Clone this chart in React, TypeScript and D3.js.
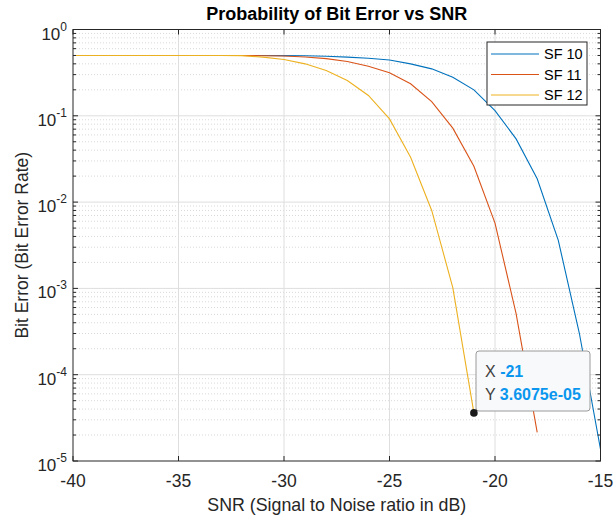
import React from 'react';
import * as d3 from 'd3';

// SNR sample points (dB)
const snr = [-40, -39, -38, -37, -36, -35, -34, -33, -32, -31, -30, -29, -28, -27, -26, -25, -24, -23, -22, -21, -20, -19, -18, -17, -16, -15];

// bit error rate, one value per SNR step (curves stop where BER hits 0)
const sf10 = [0.5, 0.5, 0.5, 0.5, 0.5, 0.5, 0.5, 0.5, 0.5, 0.499, 0.498, 0.496, 0.49, 0.478, 0.465, 0.443, 0.4, 0.35, 0.28, 0.2, 0.115, 0.054, 0.0186, 0.0036, 0.0003, 1.37e-5];
const sf11 = [0.5, 0.5, 0.5, 0.5, 0.5, 0.5, 0.5, 0.5, 0.499, 0.497, 0.493, 0.48, 0.46, 0.425, 0.375, 0.315, 0.235, 0.146, 0.072, 0.026, 0.0057, 0.00051, 2.15e-5];
const sf12 = [0.5, 0.5, 0.5, 0.5, 0.5, 0.5, 0.5, 0.5, 0.498, 0.478, 0.45, 0.4, 0.335, 0.256, 0.172, 0.092, 0.033, 0.008, 0.00102, 3.6075e-5];

const seriesNames = ['SF 10', 'SF 11', 'SF 12'];
const seriesColors = ['#0072BD', '#D95319', '#EDB120'];

const xTicks = [-40, -35, -30, -25, -20, -15];
const yExponents = [0, -1, -2, -3, -4, -5];

// data tip
const tipX = -21;
const tipY = 3.6075e-5;
const tipLabel = '3.6075e-05';

const W = 614;
const H = 521;
const FONT = '"Liberation Sans", Arial, Helvetica, sans-serif';
const AXIS = '#262626';

const App = () => {
  const left = 73, right = 600.5, top = 29.5, bottom = 461;

  const x = d3.scaleLinear().domain([-40, -15]).range([left, right]);
  const y = d3.scaleLog().domain([1e-5, 1]).range([bottom, top]);

  const line = d3.line<[number, number]>()
    .x(d => x(d[0]))
    .y(d => y(d[1]));

  const allSeries = [sf10, sf11, sf12].map(vals => vals.map((v, i) => [snr[i], v] as [number, number]));

  // minor ticks 2..9 in each decade
  const minor: number[] = [];
  for (let e = -5; e < 0; e++) {
    for (let m = 2; m <= 9; m++) minor.push(m * Math.pow(10, e));
  }

  const px = x(tipX), py = y(tipY);
  const bx = 476, by = 351, bw = 114, bh = 60;

  return (
    <svg width={W} height={H} style={{ position: 'absolute', left: 0, top: 0, background: '#fff' }} fontFamily={FONT}>
      <defs>
        <clipPath id="plotClip">
          <rect x={left} y={top} width={right - left} height={bottom - top} />
        </clipPath>
      </defs>
      <rect x={0} y={0} width={W} height={H} fill="#fff" />

      {/* minor grid */}
      {minor.map(v => (
        <line key={'mg' + v} x1={left} x2={right} y1={y(v)} y2={y(v)}
          stroke="#cfcfcf" strokeWidth={0.8} strokeDasharray="1,2" />
      ))}
      {/* major grid */}
      {yExponents.slice(1, 5).map(e => (
        <line key={'gy' + e} x1={left} x2={right} y1={y(Math.pow(10, e))} y2={y(Math.pow(10, e))}
          stroke="#dedede" strokeWidth={1} />
      ))}
      {xTicks.slice(1, 5).map(t => (
        <line key={'gx' + t} x1={x(t)} x2={x(t)} y1={top} y2={bottom} stroke="#dedede" strokeWidth={1} />
      ))}

      {/* curves */}
      <g clipPath="url(#plotClip)">
        {allSeries.map((s, i) => (
          <path key={seriesNames[i]} d={line(s) || ''} fill="none" stroke={seriesColors[i]} strokeWidth={1.1} />
        ))}
      </g>

      {/* axes box and ticks */}
      <rect x={left} y={top} width={right - left} height={bottom - top} fill="none" stroke={AXIS} strokeWidth={1} />
      {xTicks.map(t => (
        <g key={'xt' + t}>
          <line x1={x(t)} x2={x(t)} y1={bottom} y2={bottom - 5} stroke={AXIS} />
          <line x1={x(t)} x2={x(t)} y1={top} y2={top + 5} stroke={AXIS} />
          <text x={x(t)} y={487} textAnchor="middle" fontSize={17.5} fill={AXIS}>{t}</text>
        </g>
      ))}
      {yExponents.map(e => (
        <g key={'yt' + e}>
          <line x1={left} x2={left + 5} y1={y(Math.pow(10, e))} y2={y(Math.pow(10, e))} stroke={AXIS} />
          <line x1={right} x2={right - 5} y1={y(Math.pow(10, e))} y2={y(Math.pow(10, e))} stroke={AXIS} />
          <text x={67} y={y(Math.pow(10, e)) + 10} textAnchor="end" fill={AXIS}>
            <tspan fontSize={17}>10</tspan>
            <tspan fontSize={12} dy={-9}>{e}</tspan>
          </text>
        </g>
      ))}
      {minor.map(v => (
        <g key={'mt' + v}>
          <line x1={left} x2={left + 3} y1={y(v)} y2={y(v)} stroke={AXIS} />
          <line x1={right} x2={right - 3} y1={y(v)} y2={y(v)} stroke={AXIS} />
        </g>
      ))}

      {/* title and labels */}
      <text x={(left + right) / 2} y={20} textAnchor="middle" fontSize={18} fontWeight="bold" fill="#000">
        Probability of Bit Error vs SNR
      </text>
      <text x={(left + right) / 2} y={511} textAnchor="middle" fontSize={17.8} fill={AXIS}>
        SNR (Signal to Noise ratio in dB)
      </text>
      <text transform={`translate(28,${(top + bottom) / 2}) rotate(-90)`} textAnchor="middle" fontSize={17.5} fill={AXIS}>
        Bit Error (Bit Error Rate)
      </text>

      {/* legend */}
      <rect x={487} y={42} width={100} height={63} fill="#fff" stroke={AXIS} strokeWidth={1} />
      {seriesNames.map((n, i) => (
        <g key={'lg' + n}>
          <line x1={491} x2={539} y1={54 + i * 20.5} y2={54 + i * 20.5} stroke={seriesColors[i]} strokeWidth={1.1} />
          <text x={544} y={59 + i * 20.5} fontSize={14.5} fill="#000">{n}</text>
        </g>
      ))}

      {/* data tip */}
      <rect x={bx} y={by} width={bw} height={bh} rx={3} fill="#f8f9fb" stroke="#9a9a9a" strokeWidth={1} />
      <text x={485} y={377} fontSize={16} fill="#404040">
        X <tspan fill="#0a96ee" fontWeight="bold">{tipX}</tspan>
      </text>
      <text x={485} y={399.5} fontSize={16} fill="#404040">
        Y <tspan fill="#0a96ee" fontWeight="bold">{tipLabel}</tspan>
      </text>
      <circle cx={px} cy={py} r={3.8} fill="#1a1a1a" />
    </svg>
  );
};

export default App;
